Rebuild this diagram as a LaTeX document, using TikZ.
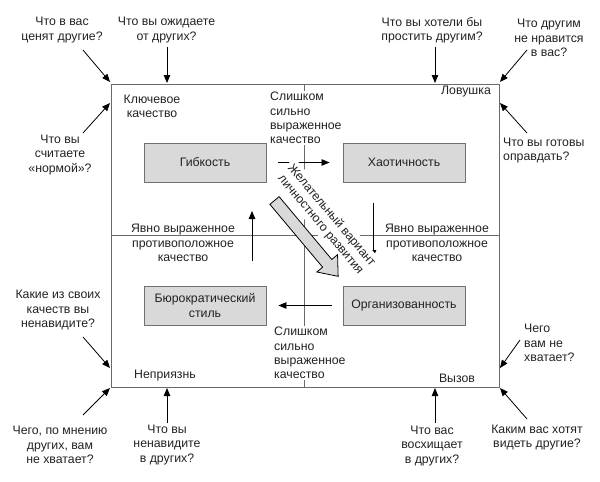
\documentclass[tikz,border=0pt]{standalone}
\usepackage{fontspec}
\setmainfont{Liberation Sans}
\usetikzlibrary{arrows.meta}
\definecolor{framegray}{HTML}{6A6A6A}
\definecolor{boxfill}{HTML}{D9D9D9}
\definecolor{boxline}{HTML}{707070}
\definecolor{txt}{HTML}{222222}
\tikzset{
  lbl/.style={font=\fontsize{12.3}{14.3}\selectfont, text=txt, inner sep=1pt, align=center},
  lbll/.style={lbl, align=left, anchor=west},
  qbox/.style={draw=boxline, fill=boxfill, line width=0.9pt, minimum width=122pt, minimum height=39pt,
    font=\fontsize{12.3}{14.3}\selectfont, text=txt, align=center},
  arr/.style={-{Triangle[length=8pt,width=6.5pt]}, line width=0.8pt, black},
  axis/.style={draw=framegray, line width=0.9pt},
}
\begin{document}
\begin{tikzpicture}[x=1pt,y=-1pt]
\useasboundingbox (0,0) rectangle (600,482);
% frame and cross
\node[axis, minimum width=388pt, minimum height=303pt, anchor=north west, inner sep=0pt] (frame) at (111,84) {};
\coordinate (vt) at (304,84);
\coordinate (vb) at (304,387);
\coordinate (hl) at (111,235.5);
\coordinate (hr) at (499,235.5);
\draw[axis] (vt) -- (vb);
\draw[axis] (hl) -- (hr);

% quality boxes
\node[qbox] (flex) at (205,162.5) {Гибкость};
\node[qbox] (chaos) at (404,162.5) {Хаотичность};
\node[qbox] (bureau) at (205,305.5) {Бюрократический\\стиль};
\node[qbox] (org) at (404,305.5) {Организованность};

% inner labels
\node[lbl] (key) at (152,106.5) {Ключевое\\качество};
\node[lbl] (trap) at (466,92) {Ловушка};
\node[lbll, fill=white] (over1) at (269,118) {Слишком\\сильно\\выраженное\\качество};
\node[lbl] (opp1) at (183,243) {Явно выраженное\\противоположное\\качество};
\node[lbl] (opp2) at (437,243) {Явно выраженное\\противоположное\\качество};
\node[lbl] (aversion) at (165,376) {Неприязнь};
\node[lbl] (challenge) at (457,378) {Вызов};
\node[lbll, fill=white] (over2) at (273,353) {Слишком\\сильно\\выраженное\\качество};

% inner arrows
\draw[arr] ([xshift=12pt]flex.east) -- ([xshift=-13pt]chaos.west);
\draw[arr] ([xshift=-11pt]org.west) -- ([xshift=12pt]bureau.east);
\coordinate (upS) at (252,261);
\coordinate (upE) at (252,211);
\coordinate (dnS) at (373,203);
\coordinate (dnE) at (373,258);
\draw[arr] (upS) -- (upE);
\draw[arr] (dnS) -- (dnE);

% development text and big arrow
\node[lbl, rotate=-50, fill=white, inner sep=3pt] (dev) at (326,220) {Желательный вариант\\личностного развития};
\begin{scope}[shift={(274.5,200.5)}, rotate=-50]
  \draw[fill=boxfill, draw=black, line width=0.8pt, line join=miter]
    (0,-6) -- (82,-6) -- (82,-13.5) -- (99,0) -- (82,13.5) -- (82,6) -- (0,6) -- cycle;
\end{scope}

% outer questions
\node[lbl] (q1) at (62,30) {Что в вас\\ценят другие?};
\node[lbl] (q2) at (166.5,30) {Что вы ожидаете\\от других?};
\node[lbl] (q3) at (60,155) {Что вы\\считаете\\«нормой»?};
\node[lbl] (q4) at (432,30) {Что вы хотели бы\\простить другим?};
\node[lbl] (q5) at (549,38) {Что другим\\не нравится\\в вас?};
\node[lbll] (q6) at (502,150.5) {Что вы готовы\\оправдать?};
\node[lbl] (q7) at (58,310) {Какие из своих\\качеств вы\\ненавидите?};
\node[lbl] (q8) at (60,445) {Чего, по мнению\\других, вам\\не хватает?};
\node[lbl] (q9) at (167,445) {Что вы\\ненавидите\\в других?};
\node[lbl] (q10) at (432,446) {Что вас\\восхищает\\в других?};
\node[lbl] (q11) at (537,437.5) {Каким вас хотят\\видеть другие?};
\node[lbll] (q12) at (523,343) {Чего\\вам не\\хватает?};

% outer arrows
\coordinate (a1s) at (83,50);   \coordinate (a1e) at (110,82);
\coordinate (a2s) at (167,47);  \coordinate (a2e) at (167,83);
\coordinate (a3s) at (83,133);  \coordinate (a3e) at (110,103);
\coordinate (a4s) at (435,47);  \coordinate (a4e) at (435,83);
\coordinate (a5s) at (527,50);  \coordinate (a5e) at (500,82);
\coordinate (a6s) at (527,133); \coordinate (a6e) at (500,103);
\coordinate (a7s) at (83,337);  \coordinate (a7e) at (110,368);
\coordinate (a8s) at (83,415);  \coordinate (a8e) at (110,388);
\coordinate (a9s) at (167,423); \coordinate (a9e) at (167,388);
\coordinate (a10s) at (435,423); \coordinate (a10e) at (435,388);
\coordinate (a11s) at (527,419); \coordinate (a11e) at (500,388);
\coordinate (a12s) at (520,340); \coordinate (a12e) at (500,368);
\foreach \i in {1,...,12} {\draw[arr] (a\i s) -- (a\i e);}
\end{tikzpicture}
\end{document}
